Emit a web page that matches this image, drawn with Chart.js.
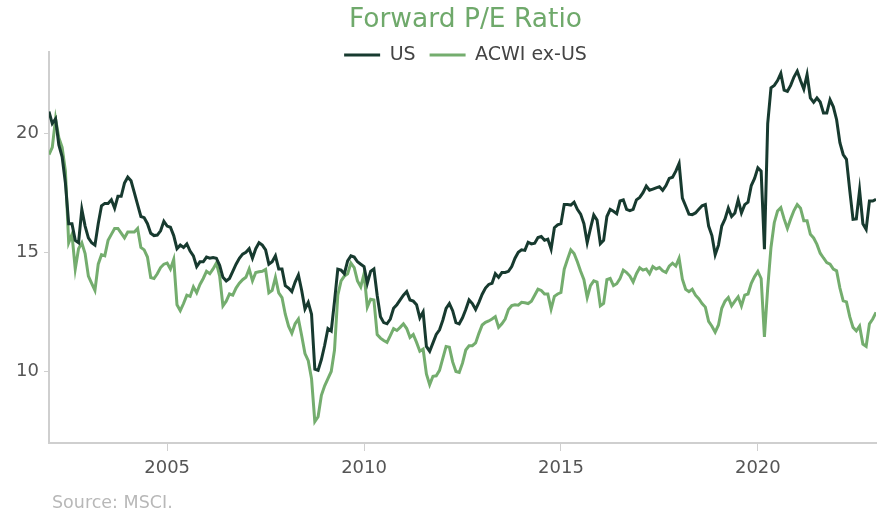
<!DOCTYPE html>
<html>
<head>
<meta charset="utf-8">
<script src="https://cdn.jsdelivr.net/npm/chart.js@4"></script>
<style>
html,body{margin:0;padding:0;background:#ffffff;}
#wrap{width:882px;height:516px;position:relative;}
</style>
</head>
<body>
<div id="wrap"><canvas id="c" width="882" height="516"></canvas></div>
<script>
// ---- Data ----
const TITLE = 'Forward P/E Ratio';
const SOURCE = 'Source: MSCI.';
const seriesNames = ['US', 'ACWI ex-US'];
const startYear = 2002;
const startMonth = 1;
const xTickYears = [2005, 2010, 2015, 2020];
const yTickValues = [10, 15, 20];

const us = [
20.9,20.4,20.6,19.5,19.0,17.9,16.2,16.2,15.5,15.4,
16.8,16.1,15.6,15.4,15.3,16.2,16.95,17.05,17.05,17.2,
16.85,17.35,17.35,17.9,18.15,18.0,17.5,17.0,16.5,16.45,
16.2,15.8,15.7,15.72,15.9,16.3,16.1,16.05,15.7,15.15,
15.3,15.2,15.35,15.05,14.85,14.4,14.6,14.6,14.8,14.75,
14.78,14.75,14.45,13.95,13.8,13.9,14.2,14.5,14.75,14.92,
15.0,15.15,14.75,15.15,15.4,15.3,15.1,14.5,14.6,14.85,
14.3,14.3,13.6,13.5,13.35,13.75,14.05,13.4,12.62,12.9,
12.4,10.1,10.05,10.5,11.1,11.8,11.7,12.95,14.29,14.25,
14.1,14.64,14.85,14.8,14.6,14.5,14.4,13.7,14.2,14.3,
13.2,12.3,12.05,12.0,12.2,12.65,12.8,13.0,13.2,13.35,
13.0,12.95,12.8,12.25,12.5,11.05,10.85,11.2,11.55,11.75,
12.15,12.65,12.85,12.55,12.05,12.0,12.25,12.6,13.0,12.85,
12.6,12.9,13.24,13.5,13.65,13.7,14.1,13.95,14.15,14.15,
14.2,14.4,14.75,15.0,15.1,15.08,15.42,15.35,15.38,15.62,
15.66,15.5,15.55,15.13,16.03,16.15,16.2,17.0,17.0,16.98,
17.1,16.8,16.6,16.2,15.4,16.0,16.56,16.35,15.36,15.5,
16.5,16.8,16.72,16.62,17.15,17.2,16.8,16.75,16.8,17.2,
17.3,17.5,17.78,17.6,17.65,17.7,17.75,17.6,17.8,18.1,
18.15,18.4,18.72,17.27,16.94,16.6,16.58,16.65,16.8,16.95,
17.0,16.1,15.7,14.9,15.3,16.1,16.4,16.85,16.5,16.65,
17.2,16.65,17.0,17.1,17.8,18.1,18.54,18.4,15.13,20.4,
21.9,22.0,22.2,22.5,21.8,21.75,22.0,22.35,22.6,22.2,
21.84,22.45,21.47,21.29,21.47,21.3,20.84,20.84,21.4,21.1,
20.56,19.6,19.1,18.9,17.6,16.38,16.4,17.6,16.2,15.96,
17.15,17.15,17.22
];

const acwiExUs = [
19.1,19.4,20.6,19.8,19.4,18.4,15.4,15.75,14.3,15.15,
15.4,14.95,14.0,13.7,13.4,14.5,14.9,14.85,15.5,15.75,
16.0,16.0,15.8,15.6,15.85,15.85,15.85,16.0,15.2,15.1,
14.8,13.94,13.9,14.1,14.36,14.5,14.55,14.3,14.7,12.8,
12.55,12.85,13.2,13.15,13.55,13.3,13.65,13.9,14.2,14.1,
14.3,14.55,14.0,12.75,12.95,13.25,13.2,13.5,13.7,13.85,
13.95,14.3,13.8,14.15,14.18,14.2,14.28,13.3,13.4,13.95,
13.3,13.1,12.4,11.9,11.6,12.0,12.2,11.5,10.75,10.45,
9.7,7.9,8.1,9.0,9.4,9.7,10.0,10.9,13.2,13.8,
14.0,14.1,14.55,14.36,13.8,13.55,14.1,12.7,13.03,13.0,
11.55,11.4,11.3,11.22,11.5,11.8,11.72,11.85,12.0,11.8,
11.43,11.55,11.22,10.85,10.94,9.9,9.45,9.8,9.82,10.05,
10.55,11.05,11.02,10.4,10.0,9.96,10.35,10.9,11.08,11.08,
11.2,11.6,11.95,12.06,12.12,12.2,12.3,11.85,12.0,12.2,
12.6,12.76,12.8,12.78,12.9,12.88,12.85,12.95,13.2,13.45,
13.4,13.25,13.25,12.62,13.15,13.25,13.31,14.29,14.71,15.1,
14.95,14.6,14.2,13.85,13.1,13.6,13.8,13.75,12.75,12.85,
13.85,13.9,13.6,13.68,13.9,14.25,14.15,14.0,13.75,14.1,
14.35,14.25,14.3,14.1,14.4,14.3,14.36,14.22,14.15,14.42,
14.54,14.42,14.75,13.87,13.45,13.35,13.45,13.2,13.05,12.85,
12.7,12.1,11.9,11.65,11.95,12.65,12.95,13.1,12.75,12.95,
13.13,12.75,13.2,13.25,13.7,13.98,14.2,13.9,11.45,13.5,
15.2,16.24,16.73,16.87,16.4,16.0,16.4,16.75,17.0,16.85,
16.32,16.32,15.75,15.6,15.33,14.96,14.76,14.57,14.5,14.29,
14.22,13.5,12.96,12.92,12.3,11.85,11.7,11.9,11.15,11.05,
12.0,12.2,12.48
];

// month categories, e.g. "2002-01"
const months = [];
for (let i = 0; i < us.length; i++) {
  const y = startYear + Math.floor((startMonth - 1 + i) / 12);
  const m = ((startMonth - 1 + i) % 12) + 1;
  months.push(y + '-' + String(m).padStart(2, '0'));
}
const toYearFrac = (lab) => {
  const [y, m] = lab.split('-').map(Number);
  return y + (m - 1) / 12;
};

// ---- Styles ----
const COLORS = { us: '#173a2f', acwi: '#74ad6e', title: '#6fa96b', axis: '#cfcfcf', text: '#555555' };
Chart.defaults.font.family = "'DejaVu Sans', sans-serif";

const headerPlugin = {
  id: 'headerPlugin',
  beforeLayout(chart) {
    const lg = chart.legend;
    if (lg && !lg._floatPatched) {
      const fit = lg.fit;
      lg.fit = function () { fit.call(this); this._realHeight = this.height; this.height = 0; };
      lg._floatPatched = true;
    }
  },
  afterLayout(chart) {
    const ca = chart.chartArea;
    const tb = chart.titleBlock;
    if (tb) { tb.left = ca.left; tb.right = chart.width; tb.width = tb.right - tb.left; }
    const lg = chart.legend;
    if (lg) {
      lg.left = ca.left; lg.right = chart.width; lg.width = lg.right - lg.left;
      lg.top = 31.5; lg.height = lg._realHeight || 40; lg.bottom = lg.top + lg.height;
    }
  },
  afterDraw(chart) {
    const ctx = chart.ctx;
    ctx.save();
    ctx.font = "17.5px 'DejaVu Sans', sans-serif";
    ctx.fillStyle = '#b8b8b8';
    ctx.textBaseline = 'middle';
    ctx.textAlign = 'left';
    ctx.fillText(SOURCE, chart.chartArea.left + 3, 503);
    ctx.restore();
  }
};

const xs = months.map(toYearFrac);
const ctx = document.getElementById('c').getContext('2d');
new Chart(ctx, {
  type: 'line',
  data: {
    datasets: [
      { label: seriesNames[0], data: xs.map((x, i) => ({ x, y: us[i] })), borderColor: COLORS.us, backgroundColor: COLORS.us, borderWidth: 3, pointRadius: 0, tension: 0, fill: false },
      { label: seriesNames[1], data: xs.map((x, i) => ({ x, y: acwiExUs[i] })), borderColor: COLORS.acwi, backgroundColor: COLORS.acwi, borderWidth: 3, pointRadius: 0, tension: 0, fill: false }
    ]
  },
  options: {
    responsive: false,
    animation: false,
    layout: { padding: { left: 0, right: 6, top: 0, bottom: 0 } },
    plugins: {
      title: { display: true, text: TITLE, color: COLORS.title, font: { size: 26.5, weight: 'normal' }, padding: { top: 4, bottom: 16.2 } },
      legend: {
        display: true, position: 'top',
        labels: {
          boxWidth: 36, boxHeight: 3, padding: 14, color: '#444444', font: { size: 19 },
          generateLabels(chart) {
            const items = Chart.defaults.plugins.legend.labels.generateLabels(chart);
            items.forEach(it => { it.lineWidth = 0; it.fillStyle = it.strokeStyle; });
            return items;
          }
        }
      },
      tooltip: { enabled: false }
    },
    scales: {
      x: {
        type: 'linear',
        min: xs[0], max: xs[xs.length - 1],
        afterFit(s) { s.height = 73; },
        afterBuildTicks(s) { s.ticks = xTickYears.map(v => ({ value: v })); },
        grid: { display: true, drawOnChartArea: false, drawTicks: true, tickLength: 8, tickColor: COLORS.axis, tickWidth: 1 },
        border: { display: true, color: COLORS.axis, width: 2 },
        ticks: { color: COLORS.text, font: { size: 18 }, padding: 7, maxRotation: 0, autoSkip: false, callback: v => String(v) }
      },
      y: {
        min: 7, max: 23.4,
        afterFit(s) { s.width = 49; },
        afterBuildTicks(s) { s.ticks = yTickValues.map(v => ({ value: v })); },
        grid: { display: true, drawOnChartArea: false, drawTicks: true, tickLength: 5, tickColor: COLORS.axis, tickWidth: 1 },
        border: { display: true, color: COLORS.axis, width: 2 },
        ticks: { color: COLORS.text, font: { size: 18 }, padding: 5, callback: v => String(v) }
      }
    }
  },
  plugins: [headerPlugin]
});
</script>
</body>
</html>
